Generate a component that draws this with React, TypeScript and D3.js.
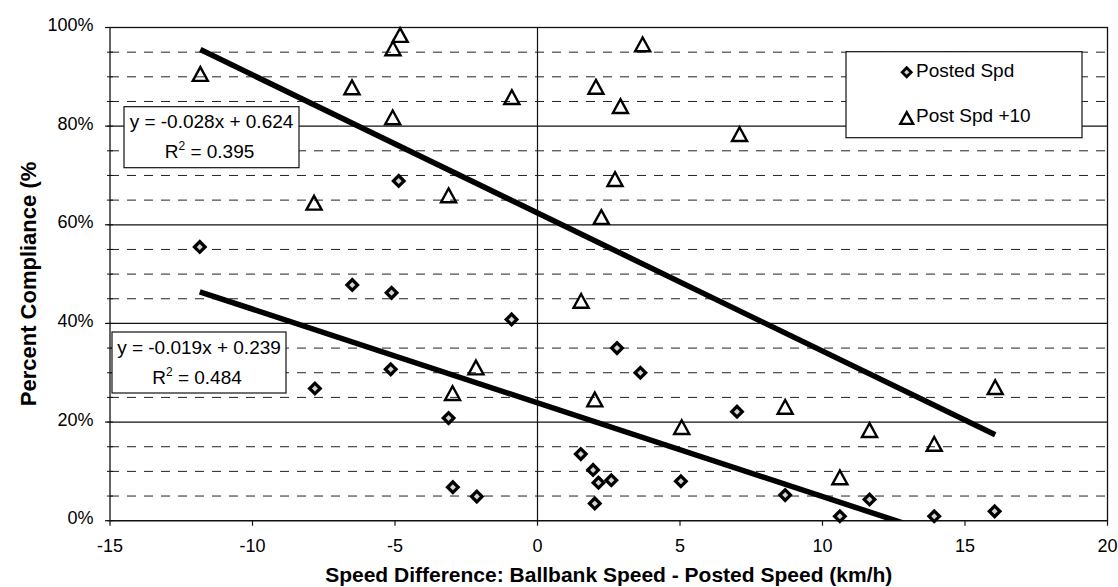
import React from "react";
import * as d3 from "d3";

// ---- data ----
const postedX = [-11.85, -7.81, -6.5, -5.12, -5.15, -4.87, -3.12, -2.97, -2.13, -0.91, 1.52, 1.95, 2.01, 2.14, 2.59, 2.79, 3.61, 5.03, 7.0, 8.69, 10.61, 11.65, 13.92, 16.04];
const postedY = [55.5, 26.8, 47.8, 46.2, 30.7, 68.9, 20.8, 6.8, 4.9, 40.8, 13.5, 10.3, 3.5, 7.7, 8.2, 35.0, 30.0, 8.0, 22.1, 5.2, 0.9, 4.3, 0.9, 1.9];
const plus10X = [-11.83, -7.84, -6.51, -5.07, -4.82, -5.08, -3.12, -2.98, -2.16, -0.9, 1.53, 2.01, 2.05, 2.24, 2.72, 2.91, 3.69, 5.06, 7.09, 8.69, 10.61, 11.65, 13.92, 16.06];
const plus10Y = [90.5, 64.4, 87.8, 95.7, 98.4, 81.7, 65.9, 25.8, 31.0, 85.8, 44.5, 24.5, 87.9, 61.5, 69.2, 84.0, 96.5, 18.9, 78.3, 23.0, 8.7, 18.3, 15.5, 27.0];

const seriesNames = ["Posted Spd", "Post Spd +10"];
const trendSlopes = [-0.019, -0.028];
const trendIntercepts = [0.239, 0.624];
const eqLine1 = ["y = -0.019x + 0.239", "y = -0.028x + 0.624"];
const eqR2 = ["0.484", "0.395"];

const xTicks = [-15, -10, -5, 0, 5, 10, 15, 20];
const yTicks = [0, 0.2, 0.4, 0.6, 0.8, 1.0];
const yMinor = d3.range(0, 1.0001, 0.05);

const xTitle = "Speed Difference: Ballbank Speed - Posted Speed (km/h)";
const yTitle = "Percent Compliance (%";

const W = 1118, H = 587;
const FONT = "'Liberation Sans', Arial, sans-serif";

const x = d3.scaleLinear().domain([-15, 20]).range([110, 1107.5]);
const y = d3.scaleLinear().domain([0, 1]).range([520.7, 27.5]);

const diamond = (r: number) => `M0,${-r}L${r},0L0,${r}L${-r},0Z`;
const triangle = (s: number) => `M0,${-s * 0.5}L${s * 0.52},${s * 0.45}L${-s * 0.52},${s * 0.45}Z`;

function Diamond({ cx, cy, k = 1 }: { cx: number; cy: number; k?: number }) {
  return (
    <g transform={`translate(${cx},${cy})`}>
      <path d={diamond(7.6 * k)} fill="#000" />
      <path d={diamond(3.0 * k)} fill="#d4d4d4" />
    </g>
  );
}

function Tri({ cx, cy, k = 1 }: { cx: number; cy: number; k?: number }) {
  return (
    <path transform={`translate(${cx},${cy})`} d={triangle(14.5 * k)} fill="none" stroke="#000" strokeWidth={2.4} strokeLinejoin="miter" />
  );
}

export default function App() {
  const [x0, x1] = x.range();
  const [y0, y1] = y.range();
  const xs = [d3.extent(postedX) as number[], d3.extent(plus10X) as number[]];
  const line = d3.line<[number, number]>().x((d) => x(d[0])).y((d) => y(d[1]));

  const eqBoxes = [
    { bx: 112, by: 332, bw: 174, bh: 61 },
    { bx: 124, by: 106.7, bw: 175, bh: 61 },
  ];

  return (
    <svg width={W} height={H} style={{ position: "absolute", left: 0, top: 0, background: "#fff" }} fontFamily={FONT}>
      <defs>
        <clipPath id="plot">
          <rect x={x0} y={y1} width={x1 - x0} height={y0 - y1} />
        </clipPath>
      </defs>
      <rect x={0} y={0} width={W} height={H} fill="#fff" />

      {/* dashed minor gridlines */}
      {yMinor.filter((v) => Math.round(v * 100) % 20 !== 0).map((v, i) => (
        <line key={"m" + i} x1={x0} x2={x1} y1={y(v)} y2={y(v)} stroke="#222" strokeWidth={1} strokeDasharray="9 8" />
      ))}
      {/* solid major gridlines */}
      {yTicks.map((v, i) => (
        <line key={"g" + i} x1={x0} x2={x1} y1={y(v)} y2={y(v)} stroke="#111" strokeWidth={1.2} />
      ))}
      {/* vertical zero line */}
      <line x1={x(0)} x2={x(0)} y1={y1} y2={y0} stroke="#111" strokeWidth={1.2} />
      {/* plot border */}
      <rect x={x0} y={y1} width={x1 - x0} height={y0 - y1} fill="none" stroke="#111" strokeWidth={1.3} />

      {/* y ticks */}
      {yMinor.map((v, i) => (
        <line key={"yt" + i} x1={x0 - 3} x2={x0 + 3} y1={y(v)} y2={y(v)} stroke="#111" strokeWidth={1} />
      ))}
      {yTicks.map((v, i) => (
        <g key={"yl" + i}>
          <line x1={x0 - 5} x2={x0} y1={y(v)} y2={y(v)} stroke="#111" strokeWidth={1.2} />
          <text x={93.5} y={y(v) + 3.5} textAnchor="end" fontSize={18} fill="#000">
            {d3.format(".0%")(v)}
          </text>
        </g>
      ))}
      {/* x ticks */}
      {xTicks.map((v, i) => (
        <g key={"xl" + i}>
          <line x1={x(v)} x2={x(v)} y1={y0} y2={y0 + 5} stroke="#111" strokeWidth={1.2} />
          <text x={x(v)} y={551.7} textAnchor="middle" fontSize={18} fill="#000">
            {v}
          </text>
        </g>
      ))}

      {/* trendlines */}
      <g clipPath="url(#plot)">
        {trendSlopes.map((m, i) => (
          <path
            key={"tr" + i}
            d={line(xs[i].map((xv) => [xv, m * xv + trendIntercepts[i]] as [number, number])) || ""}
            fill="none"
            stroke="#000"
            strokeWidth={5.5}
          />
        ))}
      </g>

      {/* points */}
      {postedX.map((xv, i) => (
        <Diamond key={"d" + i} cx={x(xv)} cy={y(postedY[i] / 100)} />
      ))}
      {plus10X.map((xv, i) => (
        <Tri key={"t" + i} cx={x(xv)} cy={y(plus10Y[i] / 100)} />
      ))}

      {/* equation boxes */}
      {eqBoxes.map((b, i) => (
        <g key={"eq" + i}>
          <rect x={b.bx} y={b.by} width={b.bw} height={b.bh} fill="#fff" stroke="#111" strokeWidth={1.2} />
          <text x={b.bx + b.bw / 2} y={b.by + 21.6} textAnchor="middle" fontSize={19} fill="#000">
            {eqLine1[i]}
          </text>
          <text x={b.bx + b.bw / 2 - 2} y={b.by + 51.6} textAnchor="middle" fontSize={19} fill="#000">
            R<tspan fontSize={12} dy={-8}>2</tspan>
            <tspan dy={8}>{" = " + eqR2[i]}</tspan>
          </text>
        </g>
      ))}

      {/* legend */}
      <rect x={846} y={51.7} width={236} height={86} fill="#fff" stroke="#111" strokeWidth={1.2} />
      <Diamond cx={906.7} cy={72.3} k={0.85} />
      <text x={916} y={77.3} fontSize={19} fill="#000">{seriesNames[0]}</text>
      <Tri cx={906.7} cy={118.3} k={0.85} />
      <text x={916} y={121.7} fontSize={19} fill="#000">{seriesNames[1]}</text>

      {/* axis titles */}
      <text x={(x0 + x1) / 2} y={582} textAnchor="middle" fontSize={21} fontWeight="bold" fill="#000">
        {xTitle}
      </text>
      <text transform={`translate(36,284) rotate(-90)`} textAnchor="middle" fontSize={22} fontWeight="bold" fill="#000">
        {yTitle}
      </text>
    </svg>
  );
}
